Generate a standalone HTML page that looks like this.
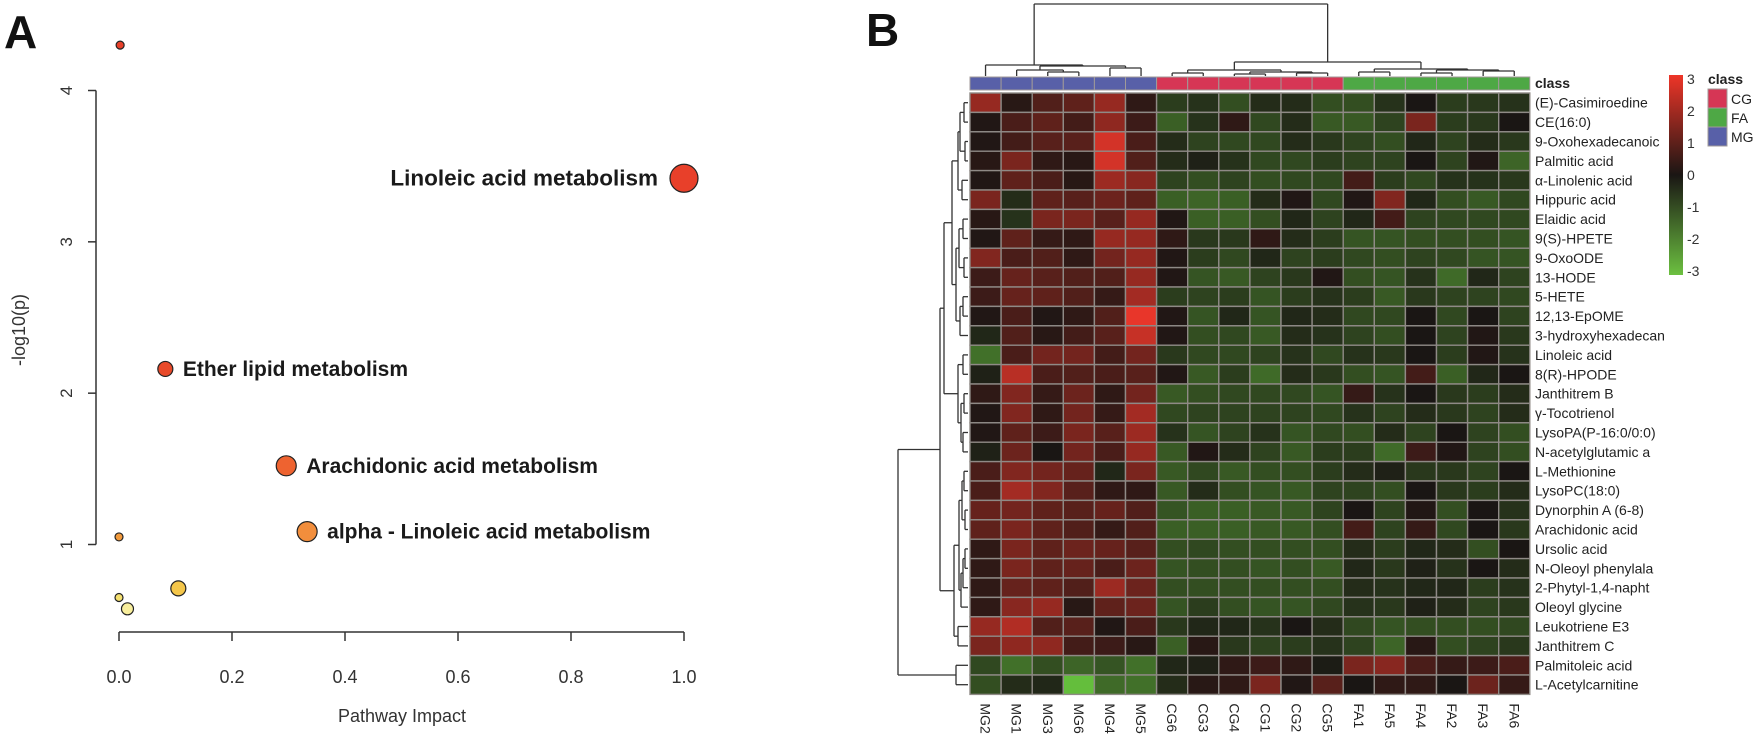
<!DOCTYPE html>
<html><head><meta charset="utf-8">
<style>
html,body{margin:0;padding:0;background:#fff;}
svg{display:block;font-family:"Liberation Sans",sans-serif;}
</style></head>
<body>
<svg id="fig" width="1756" height="751" viewBox="0 0 1756 751" xmlns="http://www.w3.org/2000/svg">
  <text x="4" y="48" font-size="46" font-weight="bold" fill="#111">A</text>
  <text x="866" y="46" font-size="46" font-weight="bold" fill="#111">B</text>
  <g id="panelA"></g>
  <g id="panelB"></g>
</svg>
<script>
// ---------- Panel A data ----------
const pathX = [0.002, 1.0, 0.082, 0.296, 0.333, 0.0, 0.105, 0.0, 0.015];
const pathY = [4.30, 3.42, 2.16, 1.52, 1.085, 1.05, 0.71, 0.65, 0.575];
const pathR = [4, 14, 7.5, 10, 10, 4, 7.5, 4, 6];
const pathColor = ["#e8402a","#e8402a","#e84a2a","#ee6330","#f28e3c","#f29a3c","#f4c64a","#f5e070","#f8ee9c"];
const pathLabel = ["", "Linoleic acid metabolism", "Ether lipid metabolism", "Arachidonic acid metabolism", "alpha - Linoleic acid metabolism", "", "", "", ""];
const labelSide = ["", "left", "right", "right", "right", "", "", "", ""];
const xTicks = [0.0, 0.2, 0.4, 0.6, 0.8, 1.0];
const xTickLabels = ["0.0","0.2","0.4","0.6","0.8","1.0"];
const yTicks = [1, 2, 3, 4];
const yTickLabels = ["1","2","3","4"];

// ---------- Panel B data ----------
const rowNames = ["(E)-Casimiroedine","CE(16:0)","9-Oxohexadecanoic","Palmitic acid","α-Linolenic acid","Hippuric acid","Elaidic acid","9(S)-HPETE","9-OxoODE","13-HODE","5-HETE","12,13-EpOME","3-hydroxyhexadecan","Linoleic acid","8(R)-HPODE","Janthitrem B","γ-Tocotrienol","LysoPA(P-16:0/0:0)","N-acetylglutamic a","L-Methionine","LysoPC(18:0)","Dynorphin A (6-8)","Arachidonic acid","Ursolic acid","N-Oleoyl phenylala","2-Phytyl-1,4-napht","Oleoyl glycine","Leukotriene E3","Janthitrem C","Palmitoleic acid","L-Acetylcarnitine"];
const colNames = ["MG2","MG1","MG3","MG6","MG4","MG5","CG6","CG3","CG4","CG1","CG2","CG5","FA1","FA5","FA4","FA2","FA3","FA6"];
const colClass = ["MG","MG","MG","MG","MG","MG","CG","CG","CG","CG","CG","CG","FA","FA","FA","FA","FA","FA"];
const values = [
 [1.8,0.2,0.8,1.0,1.8,0.3, -0.7,-0.5,-1.0,-0.4,-0.4,-1.0, -1.0,-0.5,0.0,-0.7,-0.6,-0.5],
 [0.1,0.7,1.0,0.6,1.7,0.5, -1.3,-0.5,0.3,-0.9,-0.4,-1.2, -1.2,-0.8,1.4,-0.7,-0.6,0.0],
 [0.1,0.6,0.9,0.9,2.7,0.7, -0.4,-0.8,-0.9,-0.9,-0.4,-0.6, -0.8,-1.0,-0.3,-0.8,-0.4,-0.6],
 [0.2,1.4,0.3,0.2,2.7,0.8, -0.4,-0.2,-0.5,-0.9,-0.9,-0.7, -0.8,-0.8,0.0,-0.8,0.1,-1.4],
 [0.1,1.0,0.7,0.2,1.9,1.6, -0.8,-1.0,-0.8,-1.0,-0.9,-0.9, 0.6,-0.7,-0.9,-0.5,-0.5,-0.6],
 [1.4,-0.4,1.0,0.9,1.2,1.0, -1.3,-1.4,-1.3,-0.4,0.1,-0.9, 0.1,1.5,-0.3,-1.0,-1.2,-0.9],
 [0.2,-0.5,1.4,1.4,0.9,1.8, 0.1,-1.3,-1.3,-1.0,-0.3,-0.8, -0.3,0.6,-0.8,-0.9,-0.9,-0.9],
 [0.1,1.0,0.4,0.3,1.8,1.8, 0.3,-0.6,-0.6,0.3,-0.4,-0.7, -1.1,-1.1,-1.0,-1.0,-1.0,-1.1],
 [1.5,0.7,0.8,0.3,1.3,1.8, 0.1,-0.7,-0.9,-0.3,-0.8,-0.7, -0.9,-1.0,-0.8,-0.9,-1.1,-1.1],
 [0.5,1.1,0.9,0.8,0.8,1.8, 0.1,-1.1,-1.2,-0.8,-0.6,0.1, -1.0,-1.1,-0.5,-1.5,-0.3,-0.8],
 [0.5,1.1,1.0,0.8,0.4,2.0, -0.7,-0.8,-0.7,-1.1,-0.7,-0.5, -0.7,-1.2,-0.6,-0.8,-0.8,-0.9],
 [0.1,0.7,0.1,0.3,0.8,3.0, 0.1,-1.1,-0.3,-1.1,-0.3,-0.4, -0.9,-0.9,0.0,-0.9,0.0,-0.8],
 [-0.3,0.8,0.2,0.6,0.9,2.5, 0.1,-1.0,-0.9,-1.2,-0.4,-0.5, -0.8,-1.0,0.0,-0.8,0.1,-0.6],
 [-1.6,0.7,1.3,1.3,0.6,1.3, -0.6,-0.9,-0.9,-0.8,-0.5,-0.9, -0.5,-0.6,0.0,-0.7,0.1,-0.5],
 [-0.2,2.3,0.7,0.8,0.7,0.9, 0.1,-1.2,-0.7,-1.5,-0.4,-0.6, -1.0,-1.1,0.6,-1.3,-0.3,0.0],
 [0.3,1.5,0.4,1.2,0.3,1.3, -1.2,-1.0,-0.9,-0.9,-0.9,-1.1, 0.4,-0.5,0.0,-0.6,-0.7,-0.4],
 [0.1,1.5,0.3,1.3,0.4,2.0, -0.9,-0.8,-0.8,-0.8,-0.8,-0.9, -0.5,-0.8,-0.4,-0.6,-0.8,-0.4],
 [0.1,1.0,0.5,1.4,0.9,1.9, -0.5,-1.1,-0.8,-0.5,-1.1,-0.9, -1.0,-0.4,-0.8,0.0,-0.8,-1.0],
 [-0.2,1.2,0.0,1.3,0.7,1.8, -1.2,0.1,-0.4,-0.8,-1.2,-0.7, -0.7,-1.5,0.5,0.1,-0.8,-1.0],
 [0.7,1.5,1.3,1.1,-0.3,1.4, -1.2,-0.9,-1.2,-1.0,-1.0,-0.7, -0.4,-0.2,-0.6,-0.6,-0.8,0.0],
 [0.7,2.0,1.5,0.9,0.3,0.3, -1.2,-0.4,-1.0,-1.1,-1.2,-0.8, -0.8,-1.0,0.0,-0.6,-0.7,-0.4],
 [1.1,1.3,1.0,0.9,1.1,0.8, -1.1,-1.3,-1.3,-1.2,-1.2,-0.8, 0.0,-0.8,0.1,-1.0,0.0,-0.5],
 [1.0,1.4,1.0,0.8,0.4,0.8, -1.3,-1.3,-1.3,-1.2,-1.2,-1.0, 0.6,-0.8,0.4,-0.9,0.0,-0.6],
 [0.3,1.4,1.0,1.2,1.1,0.9, -1.0,-0.9,-1.0,-1.0,-1.0,-1.0, -0.4,-0.7,-0.3,-0.4,-1.0,0.0],
 [0.3,1.4,1.0,1.1,0.7,1.2, -1.1,-1.0,-1.0,-1.1,-1.0,-1.2, -0.3,-0.6,-0.2,-0.5,0.0,-0.4],
 [0.3,1.1,1.0,0.8,1.9,1.2, -1.0,-1.0,-1.0,-1.0,-1.0,-1.0, -0.4,-0.5,-0.3,-0.3,-0.7,-0.5],
 [0.3,1.6,1.8,0.2,1.0,1.2, -1.1,-0.7,-1.0,-1.1,-1.1,-0.9, -0.5,-0.6,-0.2,-0.4,-0.8,-0.6],
 [1.8,2.2,0.8,0.9,0.1,0.7, -0.6,-0.3,-0.3,-0.5,0.0,-0.4, -0.9,-1.1,-1.0,-1.0,-1.0,-0.9],
 [1.4,1.7,1.7,0.6,0.5,0.2, -1.3,0.2,-0.6,-0.8,-0.7,-0.5, -0.8,-1.4,0.2,-1.0,-0.8,-0.6],
 [-0.9,-1.6,-1.0,-1.4,-1.1,-1.6, -0.3,-0.2,0.3,0.5,0.3,-0.1, 1.4,1.6,0.7,0.4,0.5,0.7],
 [-1.0,-0.4,-0.3,-3.0,-1.5,-1.6, -0.4,0.2,0.3,1.4,0.1,0.9, 0.0,0.3,0.3,0.0,1.2,0.4]
];
const colorbarTicks = [3,2,1,0,-1,-2,-3];
const classNames = ["CG","FA","MG"];
const rowMerges = [
 [-1,-2,4],[-3,-4,3],[1,2,8],[-5,-6,6],[3,4,10],[-7,-8,5],[-9,-10,4],[6,7,9],[-11,-12,5],[9,-13,8],
 [8,10,12],[5,11,16],[-14,-15,5],[-16,-17,4],[-18,-19,5],[14,15,7],[13,16,10],[12,17,24],[-20,-21,4],[-22,-23,3],
 [19,20,6],[-24,-25,3],[22,-26,5],[23,-27,7],[21,24,9],[-28,-29,10],[25,26,14],[18,27,28],[-30,-31,12],[28,29,70]
];
const colMerges = [
 [-3,-4,4],[-2,1,6],[-5,-6,8],[2,3,10],[-1,4,11],[-7,-8,3],[-9,-10,2],[-11,-12,3],[7,8,4],[6,9,6],
 [-13,-14,4],[-15,-16,3],[-17,-18,5],[12,13,6],[11,14,7],[10,15,14],[5,16,72]
];

const NS = "http://www.w3.org/2000/svg";
function mk(tag, attrs, parent){ const e=document.createElementNS(NS,tag); for(const k in attrs) e.setAttribute(k,attrs[k]); parent.appendChild(e); return e; }

// ---------- Panel A ----------
(function(){
  const g = document.getElementById('panelA');
  const x0=119, x1=684, yv1=544.5, yv4=90.5;
  const sx = v => x0 + v*(x1-x0);
  const sy = v => yv1 - (v-1)*(yv1-yv4)/3;
  let e;
  e = mk('line',{x1:96,y1:sy(1),x2:96,y2:sy(4),stroke:'#333','stroke-width':1.5},g);
   
  yTicks.forEach((t,i)=>{
    e = mk('line',{x1:88,y1:sy(t),x2:96,y2:sy(t),stroke:'#333','stroke-width':1.5},g);
     
    e = mk('text',{x:0,y:0,transform:`translate(72,${sy(t)}) rotate(-90)`,'text-anchor':'middle','font-size':17,fill:'#333'},g);
    e.textContent=yTickLabels[i];
     
  });
  e = mk('line',{x1:sx(0),y1:632,x2:sx(1),y2:632,stroke:'#333','stroke-width':1.5},g);
   
  xTicks.forEach((t,i)=>{
    e = mk('line',{x1:sx(t),y1:632,x2:sx(t),y2:641,stroke:'#333','stroke-width':1.5},g);
     
    e = mk('text',{x:sx(t),y:683,'text-anchor':'middle','font-size':18,fill:'#333'},g);
    e.textContent=xTickLabels[i];
     
  });
  e = mk('text',{x:402,y:722,'text-anchor':'middle','font-size':18,fill:'#333'},g);
  e.textContent='Pathway Impact';
   
  e = mk('text',{x:0,y:0,transform:'translate(25,330) rotate(-90)','text-anchor':'middle','font-size':18,fill:'#333'},g);
  e.textContent='-log10(p)';
   
  pathX.forEach((v,i)=>{
    const cx=sx(v), cy=sy(pathY[i]);
    e = mk('circle',{cx:cx,cy:cy,r:pathR[i],fill:pathColor[i],stroke:'#222','stroke-width':1.2},g);
     
    if(pathLabel[i]){
      const left = labelSide[i]==='left';
      e = mk('text',{x:left?cx-pathR[i]-12:cx+pathR[i]+10,y:cy+7,'text-anchor':left?'end':'start','font-size':left?22.5:21,'font-weight':'bold',fill:'#1a1a1a'},g);
      e.textContent=pathLabel[i];
       
    }
  });
})();

// ---------- Panel B ----------
(function(){
  const g = document.getElementById('panelB');
  const gx=970, gy=93, cw=31.1, rh=19.4;
  const cx = j => gx + j*cw;
  const ry = i => gy + i*rh;
  const classColor = {CG:'#d63655',FA:'#4ea845',MG:'#5860a8'};
  function col(v){
    const t=Math.max(-1,Math.min(1,v/3));
    const b=[26,22,20];
    const r=[232,54,42], gr=[100,190,60];
    const tgt = t>=0?r:gr, a=Math.abs(t);
    const c=b.map((bb,k)=>Math.round(bb+(tgt[k]-bb)*a));
    return `rgb(${c[0]},${c[1]},${c[2]})`;
  }
  let e;
  colClass.forEach((c,j)=>{
    e = mk('rect',{x:cx(j),y:77,width:cw,height:13,fill:classColor[c],stroke:'#a09a98','stroke-width':1},g);
     
  });
  e = mk('text',{x:1535,y:88,'font-size':14,'font-weight':'bold',fill:'#222'},g);
  e.textContent='class';
   
  values.forEach((row,i)=>row.forEach((v,j)=>{
    e = mk('rect',{x:cx(j),y:ry(i),width:cw,height:rh,fill:col(v),stroke:'#8f8a86','stroke-width':1.4},g);
     
  }));
  rowNames.forEach((n,i)=>{
    e = mk('text',{x:1535,y:ry(i)+rh/2+5,'font-size':14,fill:'#222'},g);
    e.textContent=n;
     
  });
  const gBottom = ry(values.length);
  colNames.forEach((n,j)=>{
    e = mk('text',{x:0,y:0,transform:`translate(${cx(j)+cw/2-5},${gBottom+9}) rotate(90)`,'font-size':14,fill:'#222'},g);
    e.textContent=n;
     
  });
  function dendro(merges, leafPos, toLine){
    const pos=[], hgt=[];
    merges.forEach((m)=>{
      const get = id => id<0 ? [leafPos(-id-1),0] : [pos[id-1],hgt[id-1]];
      const [pa,ha]=get(m[0]), [pb,hb]=get(m[1]), h=m[2];
      toLine(pa,ha,pa,h); toLine(pb,hb,pb,h); toLine(pa,h,pb,h);
      pos.push((pa+pb)/2); hgt.push(h);
    });
  }
  dendro(rowMerges, i=>ry(i)+rh/2, (p1,h1,p2,h2)=>{
    e = mk('line',{x1:968-h1,y1:p1,x2:968-h2,y2:p2,stroke:'#333','stroke-width':1.3},g);
     
  });
  dendro(colMerges, j=>cx(j)+cw/2, (p1,h1,p2,h2)=>{
    e = mk('line',{x1:p1,y1:76-h1,x2:p2,y2:76-h2,stroke:'#333','stroke-width':1.3},g);
     
  });
  const defs = mk('defs',{},g);
  const lg = mk('linearGradient',{id:'cb',x1:0,y1:0,x2:0,y2:1},defs);
  [[0,'#ee3528'],[0.5,'#1a1614'],[1,'#6cc040']].forEach(s=>mk('stop',{offset:s[0],'stop-color':s[1]},lg));
  e = mk('rect',{x:1669,y:75,width:14,height:200,fill:'url(#cb)'},g);
   
  colorbarTicks.forEach(t=>{
    e = mk('text',{x:1687,y:79+(3-t)*32+5,'font-size':14,fill:'#333'},g);
    e.textContent=String(t);
     
  });
  e = mk('text',{x:1708,y:84,'font-size':14,'font-weight':'bold',fill:'#222'},g);
  e.textContent='class';
   
  classNames.forEach((c,k)=>{
    e = mk('rect',{x:1708,y:89+k*19,width:19,height:19,fill:classColor[c],stroke:'#a09a98','stroke-width':1},g);
     
    e = mk('text',{x:1731,y:89+k*19+15,'font-size':14,fill:'#222'},g);
    e.textContent=c;
     
  });
})();
</script>
</body></html>
